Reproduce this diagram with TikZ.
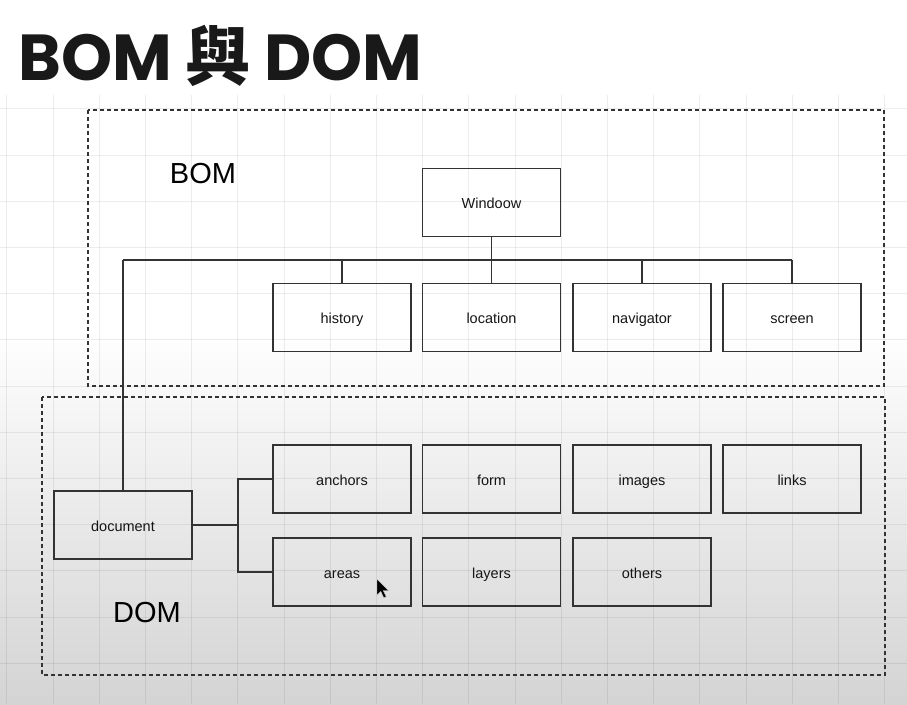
\documentclass[tikz,border=0pt]{standalone}
\usepackage{fontspec}
\setmainfont{Liberation Sans}
\newfontfamily\titlefont{Poppins}
\newfontfamily\cjk{Noto Sans CJK TC}
\definecolor{boxline}{HTML}{333333}
\definecolor{textc}{HTML}{151515}
\definecolor{gridc}{HTML}{000000}
\begin{document}
\begin{tikzpicture}[x=1pt,y=-1pt,
  box/.style={draw=boxline, line width=1.8pt, minimum width=138pt, minimum height=68pt,
    inner sep=0pt, text height=14pt, text depth=2pt,
    font=\fontsize{14.5}{16}\selectfont, text=textc},
  frame/.style={draw=boxline, line width=1.4pt, dash pattern=on 4pt off 3pt},
  conn/.style={draw=boxline, line width=1.6pt},
  biglabel/.style={font=\fontsize{29}{32}\selectfont, text=black, inner sep=0pt},
  gridline/.style={draw=gridc, opacity=0.07, line width=1pt}]
\useasboundingbox (0,0) rectangle (907,704);
% background
\fill[white] (0,0) rectangle (907,330);
\shade[top color=white, bottom color=black!17] (0,330) rectangle (907,704);
% grid
\foreach \k in {0,...,19} \draw[gridline] (6.8+46.2*\k,95) -- (6.8+46.2*\k,704);
\foreach \k in {0,...,13} \draw[gridline] (0,108.8+46.2*\k) -- (907,108.8+46.2*\k);
% title
\node[anchor=base west, inner sep=0pt, text=black!90] (title) at (18,80)
  {\fontsize{65}{68}\selectfont\titlefont\bfseries BOM {\cjk\bfseries 與} DOM};
% frames
\draw[frame] (88,110) rectangle (884,386);
\draw[frame] (42,397) rectangle (885,675);
% labels
\node[biglabel] (bomlabel) at (203,174) {BOM};
\node[biglabel] (domlabel) at (147,613) {DOM};
% BOM nodes
\node[box] (win) at (491.5,202.5) {Windoow};
\node[box] (history) at (342,317.5) {history};
\node[box] (location) at (491.5,317.5) {location};
\node[box] (navigator) at (642,317.5) {navigator};
\node[box] (screen) at (792,317.5) {screen};
% DOM nodes
\node[box] (doc) at (123,525) {document};
\node[box] (anchors) at (342,479) {anchors};
\node[box] (form) at (491.5,479) {form};
\node[box] (images) at (642,479) {images};
\node[box] (links) at (792,479) {links};
\node[box] (areas) at (342,572) {areas};
\node[box] (layers) at (491.5,572) {layers};
\node[box] (others) at (642,572) {others};
% connectors
\coordinate (busL) at (123,260);
\coordinate (busR) at (792,260);
\coordinate (fork) at (238,525);
\draw[conn] (busL) -- (busR);
\draw[conn] (win.south) -- (win.south |- busL);
\foreach \n in {history,location,navigator,screen}
  \draw[conn] (\n.north) -- (\n.north |- busL);
\draw[conn] (busL) -- (doc.north);
\draw[conn] (doc.east) -- (fork);
\draw[conn] (anchors.west) -- (anchors.west -| fork) -- (areas.west -| fork) -- (areas.west);
% mouse cursor
\fill[black, draw=white!80!black, line width=0.4pt] (377,579) -- ++(0,16) -- ++(3.8,-3.6) -- ++(3,6.4)
  -- ++(2.4,-1.1) -- ++(-3,-6.2) -- ++(5.3,0) -- cycle;
\end{tikzpicture}
\end{document}
